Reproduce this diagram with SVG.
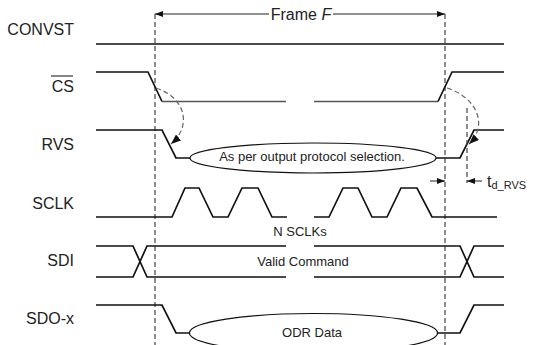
<svg xmlns="http://www.w3.org/2000/svg" width="560" height="345" viewBox="0 0 560 345">
  <style>
    .lbl { font-family: "Liberation Sans", Arial, sans-serif; font-size: 16px; fill: #222; }
    .note { font-family: "Liberation Sans", Arial, sans-serif; font-size: 13px; fill: #222; text-anchor: middle; }
    .sig { fill: none; stroke: #111; stroke-width: 1.7; stroke-linejoin: miter; }
    .sigthin { fill: none; stroke: #555; stroke-width: 1.4; }
    .bubble { fill: #fff; stroke: #111; stroke-width: 1.2; }
    .guide { fill: none; stroke: #444; stroke-width: 1.2; stroke-dasharray: 5 3; }
    .causal { fill: none; stroke: #666; stroke-width: 1.2; stroke-dasharray: 5 3; }
    .dim { fill: none; stroke: #222; stroke-width: 1; }
  </style>
  <defs>
    <marker id="tip" viewBox="0 0 8 6" refX="8" refY="3" markerWidth="8" markerHeight="6" markerUnits="userSpaceOnUse" orient="auto">
      <path d="M0,0 L8,3 L0,6 Z" fill="#111"/>
    </marker>
    <marker id="tipBig" viewBox="0 0 10 8" refX="10" refY="4" markerWidth="10" markerHeight="8" markerUnits="userSpaceOnUse" orient="auto">
      <path d="M0,0 L10,4 L0,8 Z" fill="#111"/>
    </marker>
  </defs>

  <rect width="560" height="345" fill="#fff"/>

  <!-- frame guides -->
  <g id="frame">
    <line class="guide" x1="155" y1="14" x2="155" y2="345"/>
    <line class="guide" x1="445" y1="14" x2="445" y2="345"/>
    <line class="dim" x1="269" y1="14" x2="155" y2="14" marker-end="url(#tip)"/>
    <line class="dim" x1="333" y1="14" x2="445" y2="14" marker-end="url(#tip)"/>
    <text class="lbl" x="301" y="20" text-anchor="middle">Frame <tspan font-style="italic">F</tspan></text>
  </g>

  <g id="convst">
    <text class="lbl" x="74" y="35" text-anchor="end">CONVST</text>
    <line class="sig" x1="96" y1="44" x2="504" y2="44"/>
  </g>

  <g id="cs">
    <text class="lbl" x="74" y="92" text-anchor="end">CS</text>
    <line x1="51" y1="76" x2="73" y2="76" stroke="#222" stroke-width="1.1"/>
    <path class="sig" d="M96,72 H148 L162,101.5"/>
    <path class="sigthin" d="M162,101.5 H286 M314,101.5 H438"/>
    <path class="sig" d="M438,101.5 L452,72 H504"/>
  </g>

  <g id="rvs">
    <text class="lbl" x="74" y="150" text-anchor="end">RVS</text>
    <path class="sig" d="M96,130 H162 L176,158 H190"/>
    <path class="sig" d="M436,158 H460 L474,130 H504"/>
    <ellipse class="bubble" cx="313" cy="158" rx="123" ry="15"/>
    <text class="note" x="312" y="161">As per output protocol selection.</text>
  </g>

  <g id="sclk">
    <text class="lbl" x="74" y="209" text-anchor="end">SCLK</text>
    <path class="sig" d="M96,217 H172 L185,188 H199 L213,217 H228 L242,188 H258 L272,217 H287"/>
    <path class="sig" d="M314,217 H329 L343,188 H358 L372,217 H387 L401,188 H417 L432,217 H497"/>
    <text class="note" x="300" y="236">N SCLKs</text>
  </g>

  <g id="sdi">
    <text class="lbl" x="74" y="266" text-anchor="end">SDI</text>
    <path class="sig" d="M96,246 H133 L147,277 H286 M96,277 H133 L147,246 H286"/>
    <path class="sig" d="M314,246 H460 L474,277 H504 M314,277 H460 L474,246 H504"/>
    <text class="note" x="303" y="266">Valid Command</text>
  </g>

  <g id="sdo">
    <text class="lbl" x="74" y="324" text-anchor="end">SDO-x</text>
    <path class="sig" d="M96,305 H162 L176,333 H190"/>
    <path class="sig" d="M437,333 H460 L474,305 H504"/>
    <ellipse class="bubble" cx="313.5" cy="333" rx="124" ry="19.5"/>
    <text class="note" x="312" y="337">ODR Data</text>
  </g>

  <!-- connectors: causal arrows and delay dimension -->
  <g id="connectors">
    <path class="causal" d="M156,88 C186,98 192,126 171,144" marker-end="url(#tipBig)"/>
    <path class="causal" d="M447,88 C478,98 488,126 469,144" marker-end="url(#tipBig)"/>
    <line class="guide" x1="467" y1="108" x2="467" y2="183"/>
    <line class="dim" x1="430" y1="181" x2="445" y2="181" marker-end="url(#tip)"/>
    <line class="dim" x1="482" y1="181" x2="467" y2="181" marker-end="url(#tip)"/>
    <text class="lbl" x="487" y="187" font-size="15">t<tspan font-size="11" dy="2">d_RVS</tspan></text>
  </g>
</svg>
